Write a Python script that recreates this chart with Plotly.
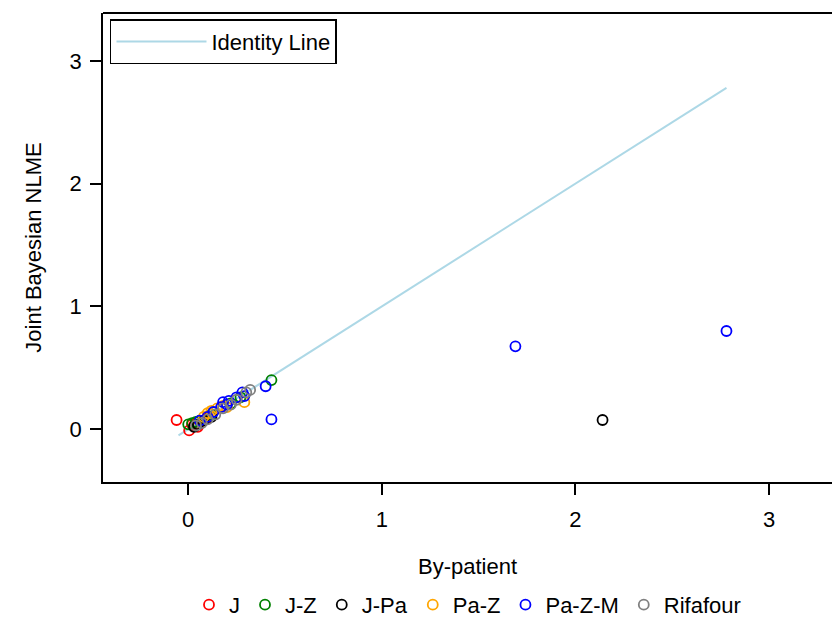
import plotly.graph_objects as go

# Per-regimen estimates: by-patient fit (x) vs joint Bayesian NLME fit (y)
groups = ["J", "J-Z", "J-Pa", "Pa-Z", "Pa-Z-M", "Rifafour"]
colors = ["red", "green", "black", "orange", "blue", "grey"]

j_x = [-0.06, 0.005, 0.05, 0.03, 0.10, 0.02]
j_y = [0.075, -0.01, 0.02, 0.03, 0.09, 0.04]

jz_x = [0.0, 0.02, 0.06, 0.12, 0.22, 0.27, 0.43, 0.04]
jz_y = [0.04, 0.05, 0.07, 0.12, 0.21, 0.26, 0.40, 0.06]

jpa_x = [2.14, 0.05, 0.08, 0.12, 0.03]
jpa_y = [0.075, 0.04, 0.07, 0.10, 0.02]

paz_x = [0.29, 0.12, 0.10, 0.15, 0.20, 0.08, 0.18]
paz_y = [0.22, 0.15, 0.13, 0.17, 0.18, 0.10, 0.19]

pazm_x = [1.69, 2.78, 0.43, 0.40, 0.28, 0.29, 0.18, 0.20, 0.17, 0.13, 0.10, 0.06, 0.21, 0.25]
pazm_y = [0.675, 0.80, 0.08, 0.35, 0.30, 0.27, 0.22, 0.20, 0.18, 0.14, 0.10, 0.07, 0.23, 0.26]

rif_x = [0.32, 0.30, 0.22, 0.18, 0.14, 0.10, 0.07, 0.04, 0.25]
rif_y = [0.32, 0.30, 0.20, 0.17, 0.12, 0.08, 0.05, 0.03, 0.24]

xs = [j_x, jz_x, jpa_x, paz_x, pazm_x, rif_x]
ys = [j_y, jz_y, jpa_y, paz_y, pazm_y, rif_y]

identity = [-0.05, 2.78]

ticks = [0, 1, 2, 3]
tick_text = ["0", "1", "2", "3"]

font_family = "Liberation Sans, Arial, sans-serif"
fs = 22

fig = go.Figure()

fig.add_trace(go.Scatter(
    x=identity, y=identity, mode="lines", name="Identity Line",
    line=dict(color="#add8e6", width=2), legend="legend",
))

for name, col, x, y in zip(groups, colors, xs, ys):
    fig.add_trace(go.Scatter(
        x=x, y=y, mode="markers", name=name, legend="legend2",
        marker=dict(symbol="circle-open", size=10, color=col,
                    line=dict(width=1.8, color=col)),
    ))

axis_common = dict(
    showgrid=False, zeroline=False, showline=True, linecolor="black",
    linewidth=1.8, ticks="outside", ticklen=11, tickwidth=1.5,
    tickcolor="black", tickvals=ticks, ticktext=tick_text, automargin=False,
    tickfont=dict(size=fs, color="black", family=font_family),
    title_font=dict(size=fs, color="black", family=font_family),
)

fig.update_layout(
    width=832, height=620,
    margin=dict(l=103, r=0, t=13, b=138, autoexpand=False),
    plot_bgcolor="white", paper_bgcolor="white",
    font=dict(family=font_family, color="black"),
    xaxis=dict(range=[-0.44, 3.325], title=dict(text="By-patient", standoff=27),
               ticklabelstandoff=6, **axis_common),
    yaxis=dict(range=[-0.43, 3.39], title=dict(text="Joint Bayesian NLME", standoff=22),
               ticklabelstandoff=4, **axis_common),
    legend=dict(x=0.0096, y=0.987, xanchor="left", yanchor="top",
                bordercolor="black", borderwidth=1.5, bgcolor="white",
                font=dict(size=fs, family=font_family, color="black"),
                itemwidth=90, tracegroupgap=0),
    legend2=dict(orientation="h", x=0.5, y=-0.262, xanchor="center", yanchor="middle",
                 font=dict(size=fs, family=font_family, color="black"),
                 itemwidth=30, bgcolor="rgba(0,0,0,0)"),
    showlegend=True,
    shapes=[dict(type="line", xref="paper", yref="paper", x0=0, x1=1, y0=1, y1=1,
                 line=dict(color="black", width=1.8))],
)

fig.write_html("out.html")
